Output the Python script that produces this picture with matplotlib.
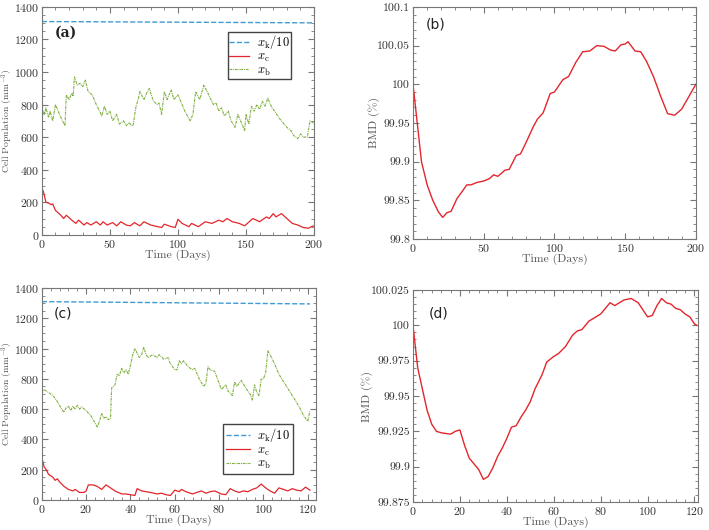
import matplotlib
matplotlib.use("Agg")
import matplotlib.pyplot as plt
from matplotlib.ticker import AutoMinorLocator, FixedLocator
import numpy as np

plt.rcParams['font.family'] = 'serif'
plt.rcParams['font.serif'] = ['cmr10']
plt.rcParams['mathtext.fontset'] = 'cm'
plt.rcParams['axes.formatter.use_mathtext'] = True

# ---- panel (a) data ----
a_xk_t = [0, 200]
a_xk = [1310, 1302]

a_xb_t = [0, 1, 2, 3, 5, 6, 8, 10, 12, 14, 17, 18, 20, 22, 23, 24, 26, 28, 30, 32, 34, 37,
          40, 43, 44, 46, 48, 50, 52, 55, 57, 60, 62, 64, 66, 67, 69, 71, 72, 75, 77, 79, 80,
          82, 85, 86, 88, 90, 92, 95, 97, 100, 102, 105, 109, 111, 113, 116, 119, 122, 126,
          128, 130, 132, 134, 137, 139, 142, 144, 146, 149, 150, 152, 154, 156, 158, 160, 162,
          164, 166, 169, 171, 174, 176, 180, 183, 185, 188, 190, 192, 195, 197, 199, 200]
a_xb = [700, 760, 740, 780, 720, 760, 700, 800, 760, 720, 670, 860, 830, 870, 850, 970, 920,
        930, 910, 950, 880, 860, 800, 750, 730, 790, 740, 760, 700, 740, 680, 700, 670, 690,
        670, 670, 780, 840, 880, 830, 870, 900, 870, 820, 800, 810, 740, 880, 830, 890, 830,
        860, 820, 760, 700, 740, 880, 830, 920, 870, 800, 810, 760, 780, 730, 760, 700, 660,
        740, 700, 640, 740, 680, 790, 760, 800, 770, 820, 790, 840, 780, 760, 720, 700, 660,
        640, 610, 590, 620, 600, 600, 700, 690, 680]

a_xc_t = [0, 1, 3, 5, 7, 8, 10, 14, 16, 18, 22, 25, 27, 31, 33, 36, 40, 43, 45, 48, 52, 55,
          58, 62, 65, 68, 72, 75, 80, 85, 88, 90, 95, 98, 100, 103, 108, 110, 115, 120, 125,
          130, 133, 136, 140, 145, 149, 155, 160, 165, 167, 170, 172, 176, 180, 184, 188, 192,
          196, 198, 200]
a_xc = [280, 270, 200, 195, 185, 190, 150, 120, 100, 120, 90, 70, 90, 60, 75, 60, 80, 60, 80,
        60, 75, 55, 80, 60, 55, 75, 55, 80, 60, 50, 45, 65, 50, 45, 95, 70, 50, 70, 50, 80,
        70, 90, 80, 100, 80, 70, 55, 100, 80, 110, 100, 130, 110, 130, 100, 70, 60, 45, 40,
        50, 55]

# ---- panel (b) data ----
b_t = [0, 3, 6, 10, 14, 18, 21, 24, 27, 31, 35, 38, 41, 45, 50, 54, 57, 60, 65, 68, 73, 76,
       80, 85, 88, 92, 97, 100, 106, 110, 115, 120, 125, 130, 135, 140, 143, 147, 150, 152,
       157, 161, 165, 170, 175, 180, 185, 190, 195, 200]
b_bmd = [100.0, 99.95, 99.90, 99.87, 99.85, 99.835, 99.828, 99.834, 99.836, 99.852, 99.862,
         99.870, 99.870, 99.873, 99.875, 99.878, 99.883, 99.881, 99.889, 99.890, 99.908,
         99.910, 99.925, 99.945, 99.955, 99.963, 99.988, 99.990, 100.006, 100.010, 100.028,
         100.042, 100.043, 100.050, 100.049, 100.044, 100.043, 100.051, 100.052, 100.055,
         100.043, 100.042, 100.030, 100.010, 99.985, 99.962, 99.960, 99.968, 99.984, 100.0]

# ---- panel (c) data ----
c_xk_t = [0, 121]
c_xk = [1310, 1295]

c_xb_t = [0, 1, 3, 5, 7, 9, 10, 11, 12, 13, 14, 15, 16, 17, 18, 20, 22, 24, 25, 26, 27, 28,
          29, 30, 31, 31.5, 33, 34, 35, 36, 37, 38, 39, 40, 41, 42, 43, 44, 45, 46, 47, 48,
          50, 52, 53, 55, 57, 58, 60, 61, 62, 63, 64, 66, 68, 69, 71, 73, 74, 75, 76, 78, 80,
          81, 83, 84, 86, 87, 88, 90, 92, 94, 95, 96, 97, 98, 99, 100, 101, 102, 103, 105,
          107, 110, 113, 116, 118, 120, 121]
c_xb = [700, 730, 710, 690, 650, 600, 580, 610, 620, 590, 620, 600, 625, 600, 615, 590, 560,
        510, 480, 520, 570, 540, 550, 530, 540, 740, 760, 830, 820, 870, 840, 860, 830, 890,
        960, 1000, 970, 940, 960, 1010, 960, 940, 960, 940, 960, 930, 940, 900, 860, 860, 920,
        900, 920, 880, 860, 870, 800, 750, 770, 880, 860, 850, 770, 730, 760, 720, 690, 780,
        750, 790, 740, 700, 660, 760, 710, 690, 800, 800, 840, 985, 960, 900, 830, 760, 690,
        620, 560, 520, 590]

c_xc_t = [0, 1, 2, 3, 4, 5, 6, 7, 8, 10, 12, 14, 15, 17, 19, 20, 21, 23, 25, 27, 29, 31, 33,
          36, 38, 40, 42, 43, 45, 47, 49, 52, 54, 56, 58, 60, 62, 63, 65, 68, 70, 72, 74, 76,
          78, 81, 83, 85, 87, 89, 91, 93, 95, 97, 99, 101, 103, 105, 107, 109, 111, 113, 115,
          117, 119, 121]
c_xc = [280, 220, 200, 170, 160, 150, 130, 140, 120, 90, 70, 60, 70, 50, 50, 60, 100, 100,
        90, 70, 100, 80, 60, 40, 40, 35, 30, 75, 60, 55, 50, 40, 45, 35, 30, 65, 55, 70, 55,
        40, 50, 60, 45, 55, 60, 40, 35, 75, 60, 50, 60, 55, 70, 80, 105, 80, 60, 45, 80, 70,
        60, 75, 65, 60, 85, 65]

# ---- panel (d) data ----
d_t = [0, 2, 4, 6, 8, 10, 12, 14, 16, 18, 20, 22, 24, 26, 28, 30, 32, 34, 36, 38, 40, 42, 44,
       46, 48, 50, 52, 55, 57, 60, 62, 65, 68, 70, 72, 75, 78, 80, 82, 84, 86, 88, 90, 93, 96,
       98, 100, 102, 104, 106, 108, 110, 112, 114, 116, 118, 120, 121]
d_bmd = [100.0, 99.97, 99.955, 99.94, 99.93, 99.925, 99.924, 99.9235, 99.923, 99.925, 99.926,
         99.915, 99.906, 99.902, 99.898, 99.891, 99.893, 99.899, 99.907, 99.913, 99.920,
         99.928, 99.929, 99.935, 99.940, 99.946, 99.955, 99.965, 99.974, 99.978, 99.980,
         99.985, 99.993, 99.996, 99.997, 100.003, 100.006, 100.008, 100.012, 100.016, 100.014,
         100.016, 100.018, 100.019, 100.016, 100.011, 100.006, 100.007, 100.014, 100.019,
         100.016, 100.015, 100.012, 100.011, 100.008, 100.006, 100.001, 100.0]

blue = '#3f9bd6'
red = '#e3262b'
green = '#7faf3c'
gray = '#555555'
gdash = (0, (2.5, 0.8, 0.8, 0.8))


def style(ax):
    for s in ax.spines.values():
        s.set_color('#777777')
        s.set_linewidth(0.8)
    ax.tick_params(which='both', direction='in', top=True, right=True,
                   colors='#777777', labelcolor='#333333', labelsize=8.5, pad=2)
    ax.tick_params(which='major', length=4)
    ax.tick_params(which='minor', length=2)
    ax.xaxis.set_minor_locator(AutoMinorLocator(5))
    ax.yaxis.set_minor_locator(AutoMinorLocator(4))


fig = plt.figure(figsize=(7.09, 5.30), dpi=100)

ax1 = fig.add_axes([0.059, 0.557, 0.384, 0.430])
ax1.plot(a_xk_t, a_xk, '--', color=blue, lw=1.0, label=r'$x_{\mathrm{k}}/10$')
ax1.plot(a_xc_t, a_xc, '-', color=red, lw=0.9, label=r'$x_{\mathrm{c}}$')
ax1.plot(a_xb_t, a_xb, linestyle=gdash, color=green, lw=0.8, label=r'$x_{\mathrm{b}}$')
ax1.set_xlim(0, 200)
ax1.set_ylim(0, 1400)
ax1.set_xlabel('Time (Days)', fontsize=8.5, color=gray, labelpad=0)
ax1.set_ylabel(r'Cell Population (mm$^{-3}$)', fontsize=7, color=gray)
ax1.yaxis.set_label_coords(-0.099, 0.5)
ax1.text(0.048, 0.87, '(a)', transform=ax1.transAxes, fontsize=10,
         family='DejaVu Serif', fontweight='bold', color='#222222')
ax1.legend(loc='upper right', bbox_to_anchor=(0.915, 0.89), fontsize=9, fancybox=False,
           edgecolor='#444444', framealpha=1, handlelength=1.6, borderpad=0.1,
           labelspacing=0.0, handletextpad=0.6, borderaxespad=0.0)
style(ax1)

ax2 = fig.add_axes([0.5825, 0.549, 0.399, 0.438])
ax2.plot(b_t, b_bmd, '-', color=red, lw=1.0)
ax2.set_xlim(0, 200)
ax2.set_ylim(99.8, 100.1)
ax2.yaxis.set_major_locator(FixedLocator([99.8, 99.85, 99.9, 99.95, 100, 100.05, 100.1]))
ax2.set_yticklabels(['99.8', '99.85', '99.9', '99.95', '100', '100.05', '100.1'])
ax2.set_xlabel('Time (Days)', fontsize=8.5, color=gray, labelpad=0)
ax2.set_ylabel('BMD (%)', fontsize=8.5, color=gray)
ax2.yaxis.set_label_coords(-0.117, 0.5)
ax2.text(0.045, 0.905, '(b)', transform=ax2.transAxes, fontsize=10,
         family='DejaVu Sans', color='#222222')
style(ax2)
ax2.yaxis.set_minor_locator(AutoMinorLocator(5))

ax3 = fig.add_axes([0.059, 0.0566, 0.386, 0.400])
ax3.plot(c_xk_t, c_xk, '--', color=blue, lw=1.0, label=r'$x_{\mathrm{k}}/10$')
ax3.plot(c_xc_t, c_xc, '-', color=red, lw=0.9, label=r'$x_{\mathrm{c}}$')
ax3.plot(c_xb_t, c_xb, linestyle=gdash, color=green, lw=0.8, label=r'$x_{\mathrm{b}}$')
ax3.set_xlim(0, 123.5)
ax3.set_ylim(0, 1400)
ax3.set_xticks([0, 20, 40, 60, 80, 100, 120])
ax3.set_xlabel('Time (Days)', fontsize=8.5, color=gray, labelpad=0)
ax3.set_ylabel(r'Cell Population (mm$^{-3}$)', fontsize=7, color=gray)
ax3.yaxis.set_label_coords(-0.099, 0.5)
ax3.text(0.045, 0.86, '(c)', transform=ax3.transAxes, fontsize=10,
         family='DejaVu Sans', color='#222222')
ax3.legend(loc='lower right', bbox_to_anchor=(0.916, 0.123), fontsize=9, fancybox=False,
           edgecolor='#444444', framealpha=1, handlelength=1.9, borderpad=0.2,
           labelspacing=0.02, handletextpad=0.6, borderaxespad=0.0)
style(ax3)

ax4 = fig.add_axes([0.5825, 0.0528, 0.402, 0.400])
ax4.plot(d_t, d_bmd, '-', color=red, lw=1.0)
ax4.set_xlim(0, 121.5)
ax4.set_ylim(99.875, 100.025)
ax4.yaxis.set_major_locator(FixedLocator([99.875, 99.9, 99.925, 99.95, 99.975, 100, 100.025]))
ax4.set_yticklabels(['99.875', '99.9', '99.925', '99.95', '99.975', '100', '100.025'])
ax4.set_xticks([0, 20, 40, 60, 80, 100, 120])
ax4.set_xlabel('Time (Days)', fontsize=8.5, color=gray, labelpad=0)
ax4.set_ylabel('BMD (%)', fontsize=8.5, color=gray)
ax4.yaxis.set_label_coords(-0.14, 0.5)
ax4.text(0.055, 0.87, '(d)', transform=ax4.transAxes, fontsize=10,
         family='DejaVu Sans', color='#222222')
style(ax4)
ax4.yaxis.set_minor_locator(AutoMinorLocator(5))

fig.savefig('out.png', dpi=100)
